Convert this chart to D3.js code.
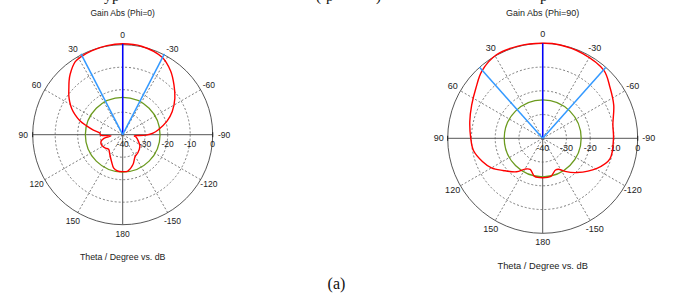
<!DOCTYPE html>
<html><head><meta charset="utf-8">
<script src="https://cdn.jsdelivr.net/npm/d3@7"></script>
<style>html,body{margin:0;padding:0;background:#fff;} svg{display:block;}</style>
</head><body>
<script>
// ---- data ----
const angleTicks = [0, 30, 60, 90, 120, 150, 180, -150, -120, -90, -60, -30];
const dbTicks = [-40, -30, -20, -10, 0];

const thetaPhi0 = [-172, -161, -150, -140, -124, -113, -100, -96, -91, -87, -82, -73, -65, -55, -46, -37, -27, -12, 0, 10, 20, 28, 33, 41, 45, 49, 54, 58, 63, 67, 72, 76, 81, 86, 91, 96, 101, 108, 118, 128, 136, 147, 157, 165, 172, 180];
const gainPhi0  = [-23.7, -26.0, -28.9, -29.5, -30.8, -32.4, -34.0, -34.8, -29.5, -26.5, -24.0, -19.4, -15.7, -11.7, -8.3, -4.6, -1.4, 0.2, 0.4, 0.2, -0.2, -0.7, -1.3, -4.4, -6.3, -8.3, -10.4, -12.2, -14.6, -16.9, -20.0, -23.3, -26.8, -29.8, -30.2, -34.8, -31.5, -29.8, -29.6, -30.3, -31.0, -29.5, -27.2, -24.6, -23.7, -23.6];
const beamPhi0 = [0, 27.3, -27.3];
const maxGainPhi0 = 0.4;
const sideLobePhi0 = -23.4;

const thetaPhi90 = [-168, -158, -153, -146, -135, -119, -107, -90, -79, -65, -53, -42, -25, -10, 0, 15, 29, 42, 53, 65, 77, 90, 100, 111, 120, 129, 142, 150, 158, 168, 180];
const gainPhi90  = [-23.6, -25.6, -25.4, -23.2, -19.6, -13.9, -10.4, -10.2, -9.9, -7.0, -4.5, -1.5, -0.5, 0.0, 0.0, 0.2, 0.2, -1.8, -4.8, -7.0, -8.5, -9.7, -10.4, -12.8, -15.1, -18.5, -22.1, -25.0, -25.9, -23.6, -23.4];
const beamPhi90 = [0, 41.7, -41.7];
const maxGainPhi90 = 0.0;
const sideLobePhi90 = -23.8;

const titles = ["Gain Abs (Phi=0)", "Gain Abs (Phi=90)"];
const xTitle = "Theta / Degree vs. dB";
const caption = "(a)";

// ---- drawing ----
const W = 688, H = 298;
const svg = d3.select("body").append("svg").attr("width", W).attr("height", H);
svg.append("rect").attr("width", W).attr("height", H).attr("fill", "#fff");

const rad = d => -d * Math.PI / 180;

function drawPolar(o) {
  const g = svg.append("g").attr("transform", `translate(${o.cx},${o.cy})`);
  const r = d3.scaleLinear().domain([-40, 0]).range([0, o.R]);
  const rr = v => r(Math.max(v, -40));
  const px = (th, v) => rr(v) * Math.sin(rad(th));
  const py = (th, v) => -rr(v) * Math.cos(rad(th));
  const font = "'Liberation Sans', Arial, sans-serif";
  const grid = "#5a5a5a";

  // dashed rings
  g.selectAll("circle.ring").data(dbTicks.filter(d => d > -40 && d < 0)).enter()
    .append("circle").attr("r", d => r(d)).attr("fill", "none")
    .attr("stroke", grid).attr("stroke-width", 0.8).attr("stroke-dasharray", "2,2");
  // dashed spokes
  g.selectAll("line.spoke").data(angleTicks.filter(a => a % 90 !== 0)).enter()
    .append("line").attr("x1", 0).attr("y1", 0)
    .attr("x2", a => px(a, 0)).attr("y2", a => py(a, 0))
    .attr("stroke", grid).attr("stroke-width", 0.8).attr("stroke-dasharray", "2,2");
  // outer ring
  g.append("circle").attr("r", r(0)).attr("fill", "none").attr("stroke", "#444").attr("stroke-width", 0.9);
  // axes
  g.append("line").attr("x1", px(90, 0)).attr("x2", px(-90, 0)).attr("y1", 0).attr("y2", 0)
    .attr("stroke", "#555").attr("stroke-width", 1);
  g.append("line").attr("x1", 0).attr("x2", 0).attr("y1", py(0, 0)).attr("y2", py(180, 0))
    .attr("stroke", "#555").attr("stroke-width", 1);
  [90, -90].forEach(a => g.append("line").attr("x1", px(a, 0)).attr("x2", px(a, 0))
    .attr("y1", -2.5).attr("y2", 2.5).attr("stroke", "#222").attr("stroke-width", 1));

  // dB labels
  g.selectAll("text.db").data(dbTicks).enter().append("text")
    .attr("x", d => r(d)).attr("y", 12.5).attr("text-anchor", "middle")
    .attr("font-family", font).attr("font-size", o.fs).attr("fill", "#222")
    .text(d => d);
  // angle labels
  const LR = o.R + o.lab;
  g.selectAll("text.ang").data(angleTicks).enter().append("text")
    .attr("x", a => LR * Math.sin(rad(a)) + (a === -90 ? 2 : 0))
    .attr("y", a => -LR * Math.cos(rad(a)))
    .attr("dy", "0.35em").attr("text-anchor", "middle")
    .attr("font-family", font).attr("font-size", o.fs).attr("fill", "#222")
    .text(a => a);

  // side lobe circle
  g.append("circle").attr("r", rr(o.side)).attr("fill", "none")
    .attr("stroke", "#6b9a1e").attr("stroke-width", 1.3);

  // pattern
  const pts = o.theta.map((t, i) => [rad(t), rr(o.gain[i])]);
  g.append("path").datum(pts)
    .attr("d", d3.lineRadial().angle(d => d[0]).radius(d => d[1]).curve(d3.curveCatmullRomClosed.alpha(0.5)))
    .attr("fill", "none").attr("stroke", "#ff0000").attr("stroke-width", 1.4);

  // beam lines
  o.beam.forEach((b, i) => {
    g.append("line").attr("x1", 0).attr("y1", 0)
      .attr("x2", px(b, o.maxG)).attr("y2", py(b, o.maxG))
      .attr("stroke", i === 0 ? "#0000ff" : "#3399ff").attr("stroke-width", 1.5);
  });

  // titles
  svg.append("text").attr("x", o.cx).attr("y", o.titleY).attr("text-anchor", "middle")
    .attr("font-family", font).attr("font-size", o.fs).attr("fill", "#222").text(o.title);
  svg.append("text").attr("x", o.cx).attr("y", o.xtY).attr("text-anchor", "middle")
    .attr("font-family", font).attr("font-size", o.fs + 0.3).attr("fill", "#222").text(xTitle);
}

drawPolar({cx: 122.7, cy: 134.7, R: 90, lab: 9.5, fs: 8.5, theta: thetaPhi0, gain: gainPhi0,
  beam: beamPhi0, maxG: maxGainPhi0, side: sideLobePhi0, title: titles[0], titleY: 15.5, xtY: 260});
drawPolar({cx: 542.7, cy: 138.3, R: 95, lab: 9, fs: 9, theta: thetaPhi90, gain: gainPhi90,
  beam: beamPhi90, maxG: maxGainPhi90, side: sideLobePhi90, title: titles[1], titleY: 15.5, xtY: 268.5});

// caption fragments cut by the top edge, as in the reference
const serif = "'Liberation Serif', 'Times New Roman', serif";
[["y", 104], ["p", 112], ["(", 316], ["p", 326], [")", 376], ["p", 540]].forEach(([t, x]) =>
  svg.append("text").attr("x", x).attr("y", 0.5).attr("font-family", serif).attr("font-size", 15)
    .attr("fill", "#111").text(t));

svg.append("text").attr("x", 336.5).attr("y", 289).attr("text-anchor", "middle")
  .attr("font-family", serif).attr("font-size", 16).attr("fill", "#111").text(caption);
</script>
</body></html>
